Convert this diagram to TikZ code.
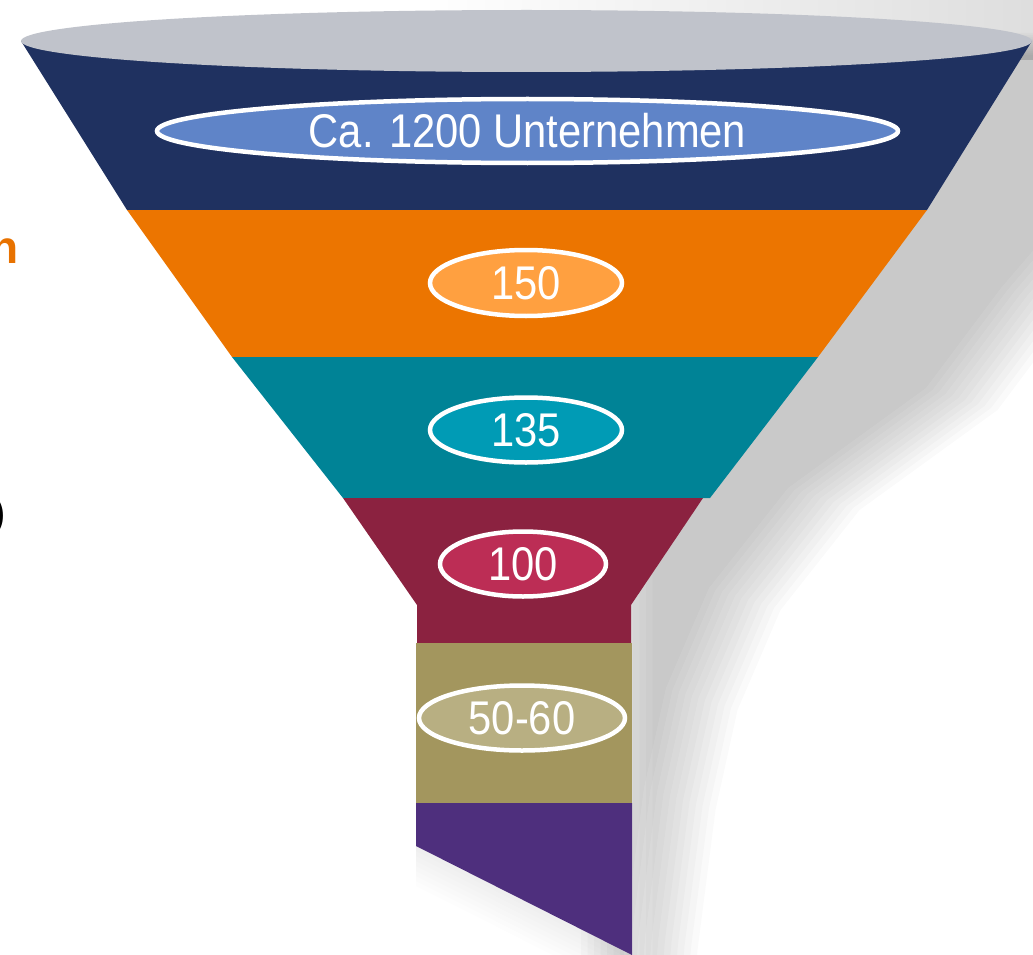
\documentclass[tikz,border=0pt]{standalone}
\usepackage{fontspec}
\setmainfont{Liberation Sans}
\usetikzlibrary{shapes.geometric}
\definecolor{rimgrey}{HTML}{C0C3CB}
\definecolor{bandA}{HTML}{1F3160}
\definecolor{bandB}{HTML}{EC7500}
\definecolor{bandC}{HTML}{008396}
\definecolor{bandD}{HTML}{8B2240}
\definecolor{bandE}{HTML}{A3965E}
\definecolor{bandF}{HTML}{4E2F7D}
\definecolor{labA}{HTML}{5F84C8}
\definecolor{labB}{HTML}{FFA040}
\definecolor{labC}{HTML}{009BB5}
\definecolor{labD}{HTML}{BC2D55}
\definecolor{labE}{HTML}{B8AF82}
\definecolor{sidetext}{HTML}{E87200}
\newcommand{\labtxt}[1]{\scalebox{0.97}[1.1]{#1}}
\begin{document}
\begin{tikzpicture}[x=1pt,y=-1pt,
  lab/.style={ellipse, draw=white, line width=4.5pt, text=white, inner sep=0pt,
    font=\fontsize{43}{43}\selectfont},
  shadowlayer/.style={fill=black, fill opacity=0.0184},
  band/.style={draw=none}]
\useasboundingbox (0,0) rectangle (1033,955);
\clip (0,0) rectangle (1033,955);
% light strip above the rim
\shade[left color=white, right color=black!13] (420,0) rectangle (1033,60);
% blurred shadow to the right
\foreach \k in {-6,...,5} {
  \fill[shadowlayer, shift={(\k*6.5,\k*2)}]
    (620,45) -- (1300,45) -- (1300,150) -- (1100,230) -- (1040,300) -- (965,400)
    -- (827,500) -- (748,600) -- (705,700) -- (683,800) -- (665,940) -- (660,1000)
    -- (620,1000) -- cycle;
}
% faint shadow under the slanted bottom
\foreach \k in {1,...,8} {
  \fill[fill=black, fill opacity=0.009]
    (416,846) -- (632,955) -- (632,{955+5*\k}) -- (416,{846+5*\k}) -- cycle;
}
% funnel bands
\fill[bandA] (21,41) -- (127,210) -- (927,210) -- (1032,41) -- cycle;
\fill[bandB] (127,210) -- (232,357) -- (818,357) -- (927,210) -- cycle;
\fill[bandC] (232,357) -- (343,498) -- (710,498) -- (818,357) -- cycle;
\fill[bandD] (343,498) -- (417,605) -- (417,643) -- (631,643) -- (631,605) -- (703,498) -- cycle;
\fill[bandE] (416,643) rectangle (632,803);
\fill[bandF] (416,803) -- (416,846) -- (632,955) -- (632,803) -- cycle;
% rim
\fill[rimgrey] (526.5,41) ellipse [x radius=505.5, y radius=31];
% labels
\node[lab, fill=labA, minimum width=741pt, minimum height=64pt] (l1) at (527.5,131) {\labtxt{Ca. 1200 Unternehmen}};
\node[lab, fill=labB, minimum width=192pt, minimum height=66pt] (l2) at (526,283) {\labtxt{150}};
\node[lab, fill=labC, minimum width=192pt, minimum height=65pt] (l3) at (526,430) {\labtxt{135}};
\node[lab, fill=labD, minimum width=166pt, minimum height=65pt] (l4) at (523,564) {\labtxt{100}};
\node[lab, fill=labE, minimum width=206pt, minimum height=65pt] (l5) at (522,718) {\labtxt{50-60}};
% cut-off side texts (cut by the picture's left edge, as in the reference)
\node[anchor=base east, inner sep=0pt, text=sidetext, font=\fontsize{46}{46}\selectfont\bfseries] (t1) at (19,263) {n};
\node[anchor=base east, inner sep=0pt, text=black, font=\fontsize{44}{44}\selectfont] (t2) at (6,527) {)};
\end{tikzpicture}
\end{document}
